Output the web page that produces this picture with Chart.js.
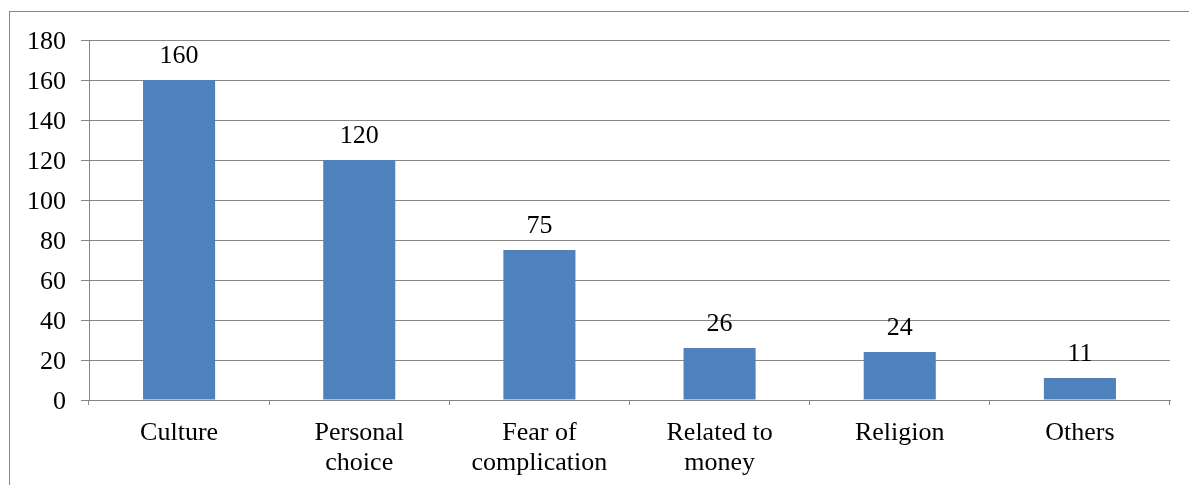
<!DOCTYPE html>
<html>
<head>
<meta charset="utf-8">
<script src="https://cdn.jsdelivr.net/npm/chart.js@4.4.0/dist/chart.umd.min.js"></script>
<style>
    html, body { margin: 0; padding: 0; background: #fff; overflow: hidden; }
    #wrap { position: relative; width: 1189px; height: 485px; }
    #frame { position: absolute; left: 9px; top: 11px; width: 1300px; height: 600px; border: 1px solid #878787; }
    #myChart { position: absolute; left: 0; top: 0; }
</style>
</head>
<body>
<div id="wrap">
    <div id="frame"></div>
    <canvas id="myChart" width="1189" height="485"></canvas>
</div>
<script>
const categories = [
    'Culture',
    ['Personal', 'choice'],
    ['Fear of', 'complication'],
    ['Related to', 'money'],
    'Religion',
    'Others'
];
const counts = [160, 120, 75, 26, 24, 11];
const yTicks = [0, 20, 40, 60, 80, 100, 120, 140, 160, 180];

const FONT = "'Liberation Serif', 'Times New Roman', serif";

// draw the value above each bar
const valueLabels = {
    id: 'valueLabels',
    afterDatasetsDraw(chart) {
        const ctx = chart.ctx;
        ctx.save();
        ctx.font = '26px ' + FONT;
        ctx.fillStyle = '#000';
        ctx.textAlign = 'center';
        ctx.textBaseline = 'alphabetic';
        chart.getDatasetMeta(0).data.forEach((bar, i) => {
            ctx.fillText(String(counts[i]), bar.x, bar.y - 17);
        });
        ctx.restore();
    }
};

const ctx1 = document.getElementById('myChart').getContext('2d');
const myChart = new Chart(ctx1, {
    type: 'bar',
    data: {
        labels: categories,
        datasets: [{
            data: counts,
            backgroundColor: '#4F81BD',
            borderWidth: 0,
            categoryPercentage: 0.4,
            barPercentage: 1.0
        }]
    },
    options: {
        responsive: false,
        animation: false,
        layout: { padding: { left: 0, right: 19, top: 40, bottom: 0 } },
        plugins: {
            legend: { display: false },
            tooltip: { enabled: false }
        },
        scales: {
            x: {
                offset: true,
                grid: {
                    offset: true,
                    drawOnChartArea: false,
                    tickLength: 5,
                    color: '#868686'
                },
                border: { color: '#868686' },
                ticks: {
                    color: '#000',
                    padding: 13,
                    maxRotation: 0,
                    autoSkip: false,
                    font: { family: FONT, size: 26, lineHeight: 1.15 }
                },
                afterFit(scale) { scale.height = 85; }
            },
            y: {
                min: 0,
                max: 180,
                afterBuildTicks(scale) { scale.ticks = yTicks.map(v => ({ value: v })); },
                grid: { color: '#868686', tickLength: 8 },
                border: { color: '#868686' },
                ticks: {
                    color: '#000',
                    padding: 15,
                    labelOffset: 2,
                    font: { family: FONT, size: 26 }
                },
                afterFit(scale) { scale.width = 89; }
            }
        }
    },
    plugins: [valueLabels]
});
</script>
</body>
</html>
